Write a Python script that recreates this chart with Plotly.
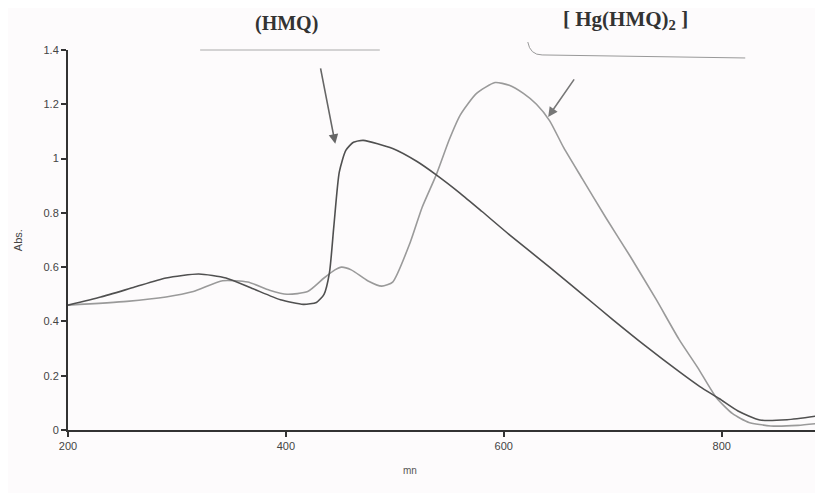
import plotly.graph_objects as go

# HMQ ligand (darker curve)
hmq_nm = [200, 230, 260, 290, 320, 345, 370, 395, 416, 428, 435, 440, 444, 449, 455, 462, 471,
          498, 520, 538, 560, 580, 605, 642, 670, 700, 730, 761, 780, 798, 815, 835, 860, 893]
hmq_abs = [0.46, 0.49, 0.525, 0.56, 0.575, 0.56, 0.52, 0.48, 0.463, 0.47, 0.50, 0.58, 0.75, 0.95,
           1.03, 1.06, 1.067, 1.037, 0.99, 0.94, 0.872, 0.805, 0.72, 0.60, 0.507, 0.407, 0.31, 0.215,
           0.16, 0.115, 0.07, 0.037, 0.038, 0.055]

# Hg(HMQ)2 complex (lighter curve)
cplx_nm = [200, 254, 290, 315, 342, 365, 385, 401, 420, 435, 445, 451, 460, 475, 488, 498, 514,
           525, 538, 550, 560, 575, 592, 605, 618, 630, 642, 655, 672, 694, 716, 740, 761, 778,
           795, 810, 825, 845, 870, 893]
cplx_abs = [0.46, 0.474, 0.49, 0.51, 0.55, 0.545, 0.515, 0.50, 0.51, 0.56, 0.59, 0.60, 0.59, 0.55,
            0.53, 0.545, 0.69, 0.82, 0.94, 1.07, 1.16, 1.24, 1.28, 1.27, 1.24, 1.20, 1.14, 1.04,
            0.926, 0.78, 0.64, 0.48, 0.333, 0.23, 0.12, 0.06, 0.028, 0.015, 0.017, 0.026]

x_ticks = [200, 400, 600, 800]
y_ticks = [0, 0.2, 0.4, 0.6, 0.8, 1.0, 1.2, 1.4]
y_tick_labels = ["0", "0.2", "0.4", "0.6", "0.8", "1", "1.2", "1.4"]

fig = go.Figure()
fig.add_trace(go.Scatter(x=cplx_nm, y=cplx_abs, mode="lines",
                         line=dict(color="#9a9a9a", width=1.6, shape="spline", smoothing=0.6),
                         name="[ Hg(HMQ)2 ]", showlegend=False))
fig.add_trace(go.Scatter(x=hmq_nm, y=hmq_abs, mode="lines",
                         line=dict(color="#505050", width=1.6, shape="spline", smoothing=0.6),
                         name="(HMQ)", showlegend=False))

tickfont = dict(family="Liberation Sans, Arial, sans-serif", size=11, color="#444")
fig.update_layout(
    width=815, height=485,
    margin=dict(l=60, r=0, t=42, b=63),
    paper_bgcolor="#fdfbfc", plot_bgcolor="#fdfbfc",
    xaxis=dict(range=[200, 893], tickvals=x_ticks, ticks="outside", ticklen=5, tickwidth=1.5, tickcolor="#333",
               showline=True, linecolor="#333", linewidth=2, showgrid=False, zeroline=False, tickfont=tickfont),
    yaxis=dict(range=[0, 1.4], tickvals=y_ticks, ticktext=y_tick_labels, ticks="outside", ticklen=5, tickwidth=1.5,
               tickcolor="#333", showline=True, linecolor="#333", linewidth=2, showgrid=False, zeroline=False,
               tickfont=tickfont),
    showlegend=False,
)

serif = dict(family="Liberation Serif, Times New Roman, serif", size=20, color="#333")
fig.add_annotation(text="<b>(HMQ)</b>", xref="paper", yref="paper", x=0.289, y=1.07, xanchor="center",
                   yanchor="middle", showarrow=False, font=serif)
fig.add_annotation(text="<b>[ Hg(HMQ)<sub>2</sub> ]</b>", xref="paper", yref="paper", x=0.739, y=1.079,
                   xanchor="center", yanchor="middle", showarrow=False,
                   font=dict(family="Liberation Serif, Times New Roman, serif", size=21, color="#333"))
fig.add_annotation(text="Abs.", xref="paper", yref="paper", x=-0.066, y=0.5, xanchor="center", textangle=-90,
                   showarrow=False, font=dict(family="Liberation Sans, Arial", size=11, color="#444"))
fig.add_annotation(text="mn", xref="paper", yref="paper", x=0.453, y=-0.126, xanchor="center", showarrow=False,
                   font=dict(family="Liberation Sans, Arial", size=10, color="#555"))

# pointer arrows
fig.add_annotation(text="", xref="paper", yref="paper", x=0.354, y=0.753, ax=-15, ay=-77, showarrow=True,
                   arrowhead=2, arrowsize=1.2, arrowwidth=1.6, arrowcolor="#666")
fig.add_annotation(text="", xref="paper", yref="paper", x=0.636, y=0.824, ax=27, ay=-39, showarrow=True,
                   arrowhead=2, arrowsize=1.2, arrowwidth=1.6, arrowcolor="#777")

# underlines beneath labels
fig.add_shape(type="line", xref="paper", yref="paper", x0=0.175, y0=1.0, x1=0.413, y1=1.0,
              line=dict(color="#aaa", width=1))
fig.add_shape(type="path", xref="paper", yref="paper",
              path="M 0.609 1.021 Q 0.612 0.987 0.628 0.987 L 0.897 0.979",
              line=dict(color="#999", width=1))

fig.write_html("out.html")
